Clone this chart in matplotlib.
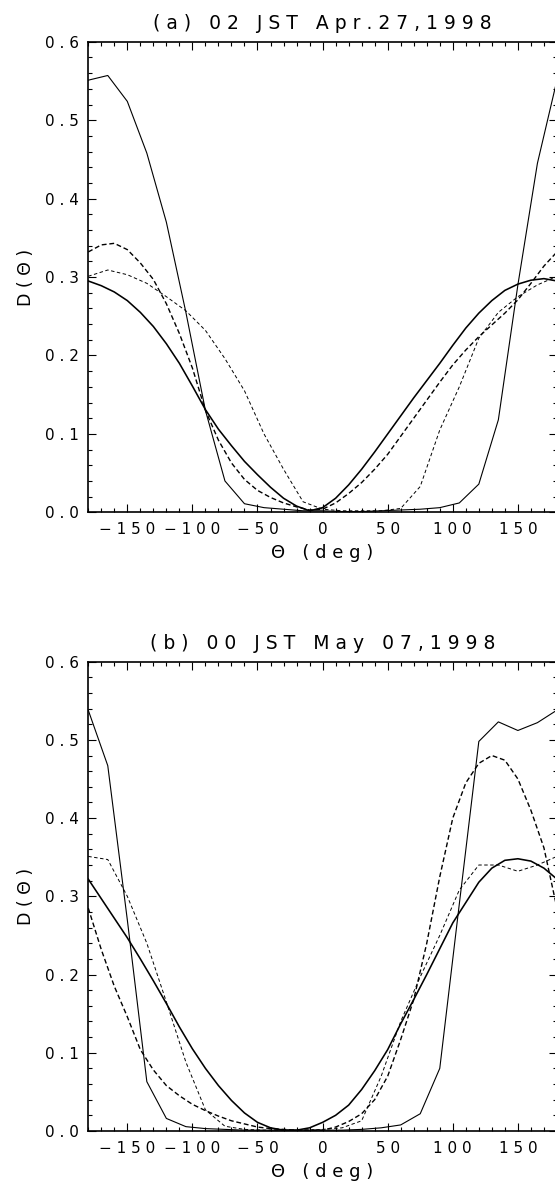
import numpy as np
import matplotlib
matplotlib.use("Agg")
import matplotlib.pyplot as plt
from matplotlib.ticker import MultipleLocator, FuncFormatter

# angle grids (deg)
theta15 = [-180, -165, -150, -135, -120, -105, -90, -75, -60, -45, -30, -15, 0,
           15, 30, 45, 60, 75, 90, 105, 120, 135, 150, 165, 180]
theta10 = [-180, -170, -160, -150, -140, -130, -120, -110, -100, -90, -80, -70,
           -60, -50, -40, -30, -20, -10, 0, 10, 20, 30, 40, 50, 60, 70, 80, 90,
           100, 110, 120, 130, 140, 150, 160, 170, 180]

# (a) 02 JST Apr.27,1998
a_thin_solid = [0.551, 0.557, 0.524, 0.458, 0.370, 0.255, 0.130, 0.040, 0.011,
                0.006, 0.004, 0.002, 0.002, 0.001, 0.001, 0.002, 0.003, 0.004,
                0.006, 0.012, 0.036, 0.118, 0.290, 0.445, 0.551]
a_thin_dash = [0.301, 0.309, 0.303, 0.292, 0.275, 0.257, 0.232, 0.196, 0.155,
               0.100, 0.055, 0.0135, 0.004, 0.002, 0.002, 0.002, 0.005, 0.033,
               0.105, 0.160, 0.222, 0.255, 0.275, 0.290, 0.301]
a_thick_solid = [0.295, 0.289, 0.281, 0.270, 0.255, 0.237, 0.215, 0.190, 0.161,
                 0.131, 0.106, 0.085, 0.065, 0.048, 0.032, 0.018, 0.008, 0.002,
                 0.006, 0.018, 0.035, 0.055, 0.077, 0.100, 0.123, 0.146, 0.168,
                 0.190, 0.213, 0.235, 0.254, 0.270, 0.283, 0.291, 0.296, 0.298,
                 0.295]
a_thick_dash = [0.332, 0.341, 0.343, 0.335, 0.318, 0.297, 0.266, 0.228, 0.184,
                0.130, 0.092, 0.063, 0.042, 0.028, 0.019, 0.012, 0.007, 0.003,
                0.004, 0.012, 0.024, 0.038, 0.055, 0.074, 0.097, 0.120, 0.143,
                0.166, 0.188, 0.207, 0.224, 0.239, 0.254, 0.271, 0.292, 0.314,
                0.332]

# (b) 00 JST May 07,1998
b_thin_solid = [0.538, 0.467, 0.270, 0.063, 0.016, 0.0055, 0.003, 0.002, 0.001,
                0.001, 0.001, 0.001, 0.001, 0.001, 0.002, 0.004, 0.0077, 0.022,
                0.080, 0.290, 0.498, 0.523, 0.512, 0.522, 0.538]
b_thin_dash = [0.351, 0.347, 0.300, 0.240, 0.165, 0.088, 0.027, 0.006, 0.002,
               0.001, 0.001, 0.001, 0.002, 0.004, 0.013, 0.070, 0.140, 0.197,
               0.250, 0.308, 0.340, 0.340, 0.332, 0.340, 0.351]
b_thick_solid = [0.322, 0.297, 0.272, 0.247, 0.220, 0.192, 0.163, 0.133, 0.105,
                 0.080, 0.058, 0.039, 0.023, 0.011, 0.004, 0.001, 0.001, 0.004,
                 0.011, 0.020, 0.033, 0.053, 0.077, 0.104, 0.137, 0.168, 0.200,
                 0.233, 0.266, 0.292, 0.318, 0.336, 0.346, 0.348, 0.345, 0.336,
                 0.322]
b_thick_dash = [0.285, 0.232, 0.185, 0.146, 0.104, 0.078, 0.058, 0.045, 0.034,
                0.026, 0.019, 0.013, 0.009, 0.005, 0.003, 0.002, 0.001, 0.001,
                0.001, 0.005, 0.012, 0.022, 0.040, 0.070, 0.117, 0.168, 0.240,
                0.325, 0.400, 0.445, 0.470, 0.480, 0.474, 0.450, 0.410, 0.362,
                0.285]

titles = ["(a) 02 JST Apr.27,1998", "(b) 00 JST May 07,1998"]
xlabel = "\u0398 (deg)"
ylabel = "D(\u0398)"

plt.rcParams['font.family'] = ['DejaVu Sans']
plt.rcParams['lines.scale_dashes'] = False


def spaced(s):
    return " ".join(s)


xfmt = FuncFormatter(lambda v, p: spaced(f"{v:g}".replace("-", "\u2212")))
yfmt = FuncFormatter(lambda v, p: spaced(f"{v:.1f}"))

fig = plt.figure(figsize=(5.55, 11.83), dpi=100)
boxes = [[0.159, 0.5669, 0.8445, 0.3978], [0.159, 0.0440, 0.8445, 0.3967]]
panels = [(a_thin_solid, a_thin_dash, a_thick_solid, a_thick_dash),
          (b_thin_solid, b_thin_dash, b_thick_solid, b_thick_dash)]

for box, title, (ts, td, ks, kd) in zip(boxes, titles, panels):
    ax = fig.add_axes(box)
    ax.plot(theta10, ks, color="black", lw=1.15)
    ax.plot(theta10, kd, color="black", lw=1.0, dashes=(3.5, 2.0))
    ax.plot(theta15, ts, color="black", lw=0.8)
    ax.plot(theta15, td, color="black", lw=0.7, dashes=(2.5, 1.8))
    ax.set_xlim(-180, 180)
    ax.set_ylim(0, 0.6)
    ax.xaxis.set_major_locator(MultipleLocator(50))
    ax.xaxis.set_minor_locator(MultipleLocator(10))
    ax.yaxis.set_major_locator(MultipleLocator(0.1))
    ax.yaxis.set_minor_locator(MultipleLocator(0.02))
    ax.xaxis.set_major_formatter(xfmt)
    ax.yaxis.set_major_formatter(yfmt)
    ax.tick_params(which="both", direction="in", top=True, right=True,
                   width=0.8, labelsize=11)
    ax.tick_params(which="major", length=6, pad=7)
    ax.tick_params(which="minor", length=3)
    for s in ax.spines.values():
        s.set_linewidth(1.2)
    ax.set_title(spaced(title), fontsize=13.5, pad=9)
    ax.set_xlabel(spaced(xlabel), fontsize=13, labelpad=5)
    ax.set_ylabel(spaced(ylabel), fontsize=12.5, labelpad=7)

fig.savefig("out.png", dpi=100)
